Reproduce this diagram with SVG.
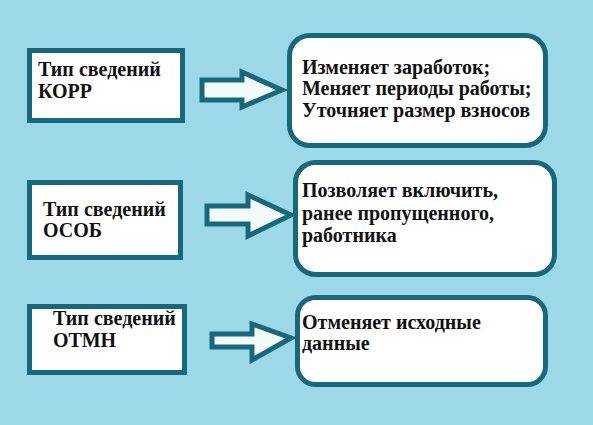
<svg xmlns="http://www.w3.org/2000/svg" width="593" height="425" viewBox="0 0 593 425">
<style>
.bg{fill:#9dd8e8}
.box{fill:#ffffff;stroke:#17687a;stroke-width:5}
.arrow{fill:#f4fbfd;stroke:#17687a;stroke-width:5;stroke-linejoin:miter}
</style>
<rect class="bg" x="0" y="0" width="593" height="425"/>
<g id="connectors">
<polygon class="arrow" points="202,80 242,80 242,72 282,90 242,107 242,100 202,100"/>
<polygon class="arrow" points="207,206 248,206 248,195 291,215 248,236 248,224 207,224"/>
<polygon class="arrow" points="212,334 252,334 252,324 291,338 252,360 252,347 212,347"/>
</g>
<g id="n1">
<rect class="box" x="29.5" y="50.5" width="153" height="70"/>
<text font-family="Liberation Serif" font-weight="bold" font-size="20" fill="#111" x="38" y="76">Тип сведений</text>
<text font-family="Liberation Serif" font-weight="bold" font-size="20" fill="#111" x="38" y="98">КОРР</text>
</g>
<g id="n2">
<rect class="box" x="289.5" y="35.5" width="256" height="110" rx="20"/>
<text font-family="Liberation Serif" font-weight="bold" font-size="20" fill="#111" x="302" y="74">Изменяет заработок;</text>
<text font-family="Liberation Serif" font-weight="bold" font-size="20" fill="#111" x="302" y="95">Меняет периоды работы;</text>
<text font-family="Liberation Serif" font-weight="bold" font-size="20" fill="#111" x="302" y="117">Уточняет размер взносов</text>
</g>
<g id="n3">
<rect class="box" x="29.5" y="182.5" width="151" height="75"/>
<text font-family="Liberation Serif" font-weight="bold" font-size="20" fill="#111" x="43" y="216">Тип сведений</text>
<text font-family="Liberation Serif" font-weight="bold" font-size="20" fill="#111" x="43" y="237">ОСОБ</text>
</g>
<g id="n4">
<rect class="box" x="295.5" y="162.5" width="259" height="112" rx="20"/>
<text font-family="Liberation Serif" font-weight="bold" font-size="20" fill="#111" x="302" y="197">Позволяет включить,</text>
<text font-family="Liberation Serif" font-weight="bold" font-size="20" fill="#111" x="302" y="220">ранее пропущенного,</text>
<text font-family="Liberation Serif" font-weight="bold" font-size="20" fill="#111" x="302" y="242">работника</text>
</g>
<g id="n5">
<rect class="box" x="29.5" y="306.5" width="155" height="66"/>
<text font-family="Liberation Serif" font-weight="bold" font-size="20" fill="#111" x="53" y="325">Тип сведений</text>
<text font-family="Liberation Serif" font-weight="bold" font-size="20" fill="#111" x="53" y="347">ОТМН</text>
</g>
<g id="n6">
<rect class="box" x="297.5" y="297.5" width="248" height="87" rx="18"/>
<text font-family="Liberation Serif" font-weight="bold" font-size="20" fill="#111" x="302" y="329">Отменяет исходные</text>
<text font-family="Liberation Serif" font-weight="bold" font-size="20" fill="#111" x="302" y="350">данные</text>
</g>
</svg>
